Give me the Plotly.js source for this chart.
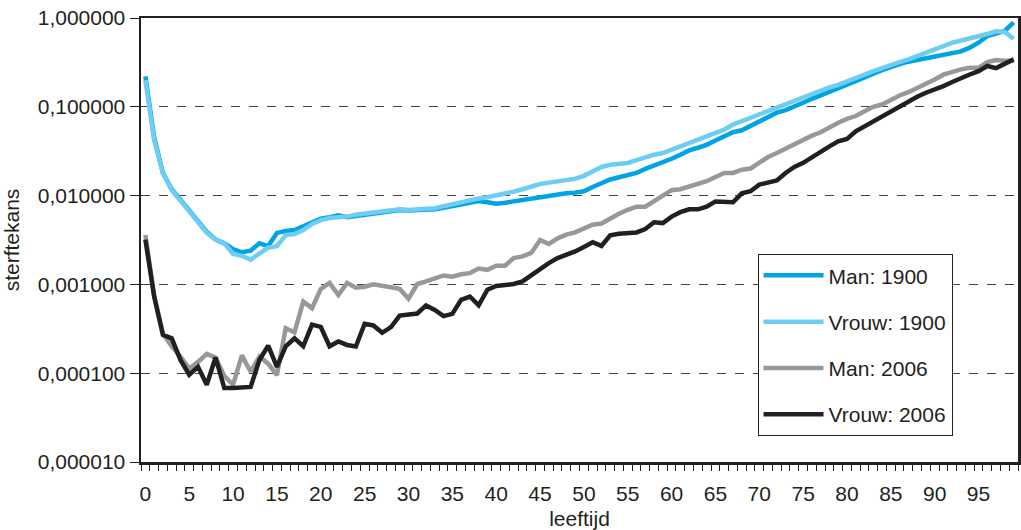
<!DOCTYPE html>
<html>
<head>
<meta charset="utf-8">
<script src="https://cdn.plot.ly/plotly-3.0.1.min.js"></script>
<style>
html,body{margin:0;padding:0;background:#fff;}
#chart{width:1021px;height:530px;}
</style>
</head>
<body>
<div id="chart"></div>
<script>
// Ages (leeftijd) 0..99
const ages = [0,1,2,3,4,5,6,7,8,9,10,11,12,13,14,15,16,17,18,19,20,21,22,23,24,25,26,27,28,29,30,31,32,33,34,35,36,37,38,39,40,41,42,43,44,45,46,47,48,49,50,51,52,53,54,55,56,57,58,59,60,61,62,63,64,65,66,67,68,69,70,71,72,73,74,75,76,77,78,79,80,81,82,83,84,85,86,87,88,89,90,91,92,93,94,95,96,97,98,99];

const man1900 = [0.22,0.045,0.018,0.0118,0.0090,0.0068,0.0052,0.0039,0.0032,0.0029,
0.0025,0.0023,0.0024,0.0029,0.0027,0.0038,0.0040,0.0041,0.0045,0.0050,
0.0055,0.0057,0.0060,0.0057,0.0059,0.0061,0.0062,0.0064,0.0066,0.0069,
0.0068,0.0068,0.0069,0.0070,0.0073,0.0076,0.0080,0.0084,0.0087,0.0084,
0.0081,0.0083,0.0086,0.0091,0.0094,0.0096,0.0100,0.0102,0.0106,0.0108,
0.0112,0.0125,0.0138,0.0152,0.0161,0.0170,0.0180,0.0200,0.0218,0.0234,
0.0260,0.0289,0.0323,0.0346,0.0373,0.0418,0.0466,0.0517,0.0544,0.0613,
0.0692,0.0772,0.0858,0.0916,0.100,0.111,0.123,0.134,0.149,0.162,
0.178,0.195,0.212,0.236,0.259,0.284,0.303,0.322,0.336,0.354,
0.367,0.380,0.393,0.421,0.463,0.527,0.626,0.672,0.714,0.89];

const vrouw1900 = [0.20,0.042,0.018,0.0115,0.0088,0.0066,0.0050,0.0038,0.0032,0.0029,
0.0022,0.0021,0.0019,0.0022,0.0026,0.0027,0.0036,0.0037,0.0041,0.0048,
0.0053,0.0056,0.0057,0.0058,0.0061,0.0063,0.0065,0.0066,0.0068,0.0070,
0.0069,0.0069,0.0071,0.0072,0.0076,0.0079,0.0083,0.0087,0.0093,0.0096,
0.0100,0.0106,0.0111,0.0118,0.0127,0.0135,0.0140,0.0145,0.0149,0.0155,
0.0167,0.0187,0.0210,0.0222,0.0227,0.0233,0.0251,0.0271,0.0289,0.0302,
0.0328,0.0359,0.0393,0.0429,0.0459,0.0501,0.0553,0.0631,0.0688,0.0751,
0.0842,0.0916,0.100,0.109,0.117,0.130,0.141,0.153,0.165,0.177,
0.195,0.209,0.230,0.252,0.275,0.298,0.319,0.342,0.370,0.407,
0.443,0.483,0.527,0.556,0.585,0.626,0.660,0.708,0.695,0.585];

const man2006 = [0.0036,0.00075,0.00028,0.00020,0.000154,0.000113,0.000134,0.000165,0.000150,0.000093,
0.000074,0.000159,0.000104,0.000154,0.000128,0.000095,0.000321,0.000289,0.00064,0.00054,
0.00089,0.00104,0.00076,0.00104,0.00092,0.00094,0.00100,0.00097,0.00093,0.00089,
0.00069,0.00101,0.00108,0.00118,0.00126,0.00122,0.00130,0.00134,0.00151,0.00146,
0.00162,0.00162,0.00198,0.00207,0.00226,0.00316,0.00286,0.00330,0.00364,0.00385,
0.00421,0.00470,0.00485,0.00557,0.00624,0.00692,0.0075,0.0075,0.0086,0.0102,
0.0115,0.0118,0.0127,0.0137,0.0145,0.0162,0.0180,0.0180,0.0196,0.0202,
0.0238,0.0272,0.0302,0.0337,0.0377,0.0428,0.0473,0.0516,0.0594,0.0661,
0.0732,0.0787,0.0892,0.100,0.106,0.121,0.134,0.146,0.162,0.183,
0.203,0.230,0.250,0.264,0.275,0.275,0.319,0.336,0.33,0.33];

const vrouw2006 = [0.0032,0.00073,0.00027,0.000247,0.000141,0.000096,0.000118,0.000074,0.000150,0.000068,
0.000068,0.000068,0.000070,0.000141,0.000204,0.000118,0.000201,0.000247,0.000201,0.000352,
0.000333,0.000201,0.000228,0.000208,0.000200,0.000360,0.000345,0.000285,0.000330,0.000445,
0.000455,0.000470,0.00058,0.000515,0.000439,0.000466,0.00067,0.00073,0.00058,0.00087,
0.00096,0.00099,0.00101,0.00108,0.00127,0.00151,0.00174,0.00198,0.00215,0.00235,
0.00264,0.00298,0.00271,0.00357,0.00371,0.00380,0.00385,0.0042,0.0050,0.0049,
0.0058,0.0065,0.0070,0.0070,0.0075,0.0086,0.0084,0.0084,0.0106,0.0112,
0.0133,0.0141,0.0148,0.0180,0.0210,0.0234,0.0272,0.0307,0.0359,0.0408,
0.0435,0.0530,0.0605,0.0688,0.0787,0.0892,0.100,0.1157,0.1295,0.144,
0.156,0.171,0.190,0.212,0.231,0.252,0.288,0.273,0.308,0.342];

const seriesNames = ['Man: 1900','Vrouw: 1900','Man: 2006','Vrouw: 2006'];
const seriesColors = ['#00a3e4','#6dcdf3','#98989b','#231f20'];
const seriesValues = [man1900, vrouw1900, man2006, vrouw2006];

const xTickVals = [0,5,10,15,20,25,30,35,40,45,50,55,60,65,70,75,80,85,90,95];
const yTickVals = [0.00001,0.0001,0.001,0.01,0.1,1];
const yTickText = ['0,000010','0,000100','0,001000','0,010000','0,100000','1,000000'];

const FONT = "'Liberation Sans Narrow', 'Arial Narrow', 'Liberation Sans', Arial, sans-serif";
const TXT = '#231f20';
const FS = 21;

const traces = seriesValues.map((vals, i) => ({
  x: ages, y: vals, type: 'scatter', mode: 'lines',
  name: seriesNames[i], legendgroup: 'g' + i,
  line: {color: seriesColors[i], width: 4.5}
}));

const layout = {
  width: 1021, height: 530,
  margin: {l: 141, r: 3, t: 18, b: 68},
  paper_bgcolor: '#ffffff', plot_bgcolor: '#ffffff',
  font: {family: FONT, size: FS, color: TXT},
  showlegend: true,
  legend: {
    x: 0.703, y: 0.468, xanchor: 'left', yanchor: 'top',
    bgcolor: '#ffffff', bordercolor: TXT, borderwidth: 1,
    font: {family: FONT, size: FS, color: TXT},
    traceorder: 'grouped', tracegroupgap: 16,
    itemwidth: 60
  },
  xaxis: {
    range: [-0.5, 99.5],
    tickmode: 'array', tickvals: xTickVals, ticktext: xTickVals.map(String),
    ticks: '', showgrid: false, zeroline: false,
    showline: true, linecolor: TXT, linewidth: 2.5, mirror: true,
    ticklabelstandoff: 11,
    tickfont: {family: FONT, size: FS, color: TXT},
    minor: {ticks: 'outside', tick0: -0.5, dtick: 1, ticklen: 6, tickwidth: 1, tickcolor: TXT, showgrid: false},
    title: {text: 'leeftijd', font: {family: FONT, size: FS, color: TXT}, standoff: 9}
  },
  yaxis: {
    type: 'log', range: [-5, 0],
    tickmode: 'array', tickvals: yTickVals, ticktext: yTickText,
    ticks: 'outside', ticklen: 9, tickwidth: 1, tickcolor: TXT,
    showgrid: true, gridcolor: '#444444', gridwidth: 1, griddash: 'dash',
    zeroline: false,
    showline: true, linecolor: TXT, linewidth: 2.5, mirror: true,
    tickfont: {family: FONT, size: FS, color: TXT},
    title: {text: 'sterftekans', font: {family: FONT, size: FS, color: TXT}, standoff: 14}
  }
};

Plotly.newPlot('chart', traces, layout, {displayModeBar: false, staticPlot: true});
</script>
</body>
</html>
